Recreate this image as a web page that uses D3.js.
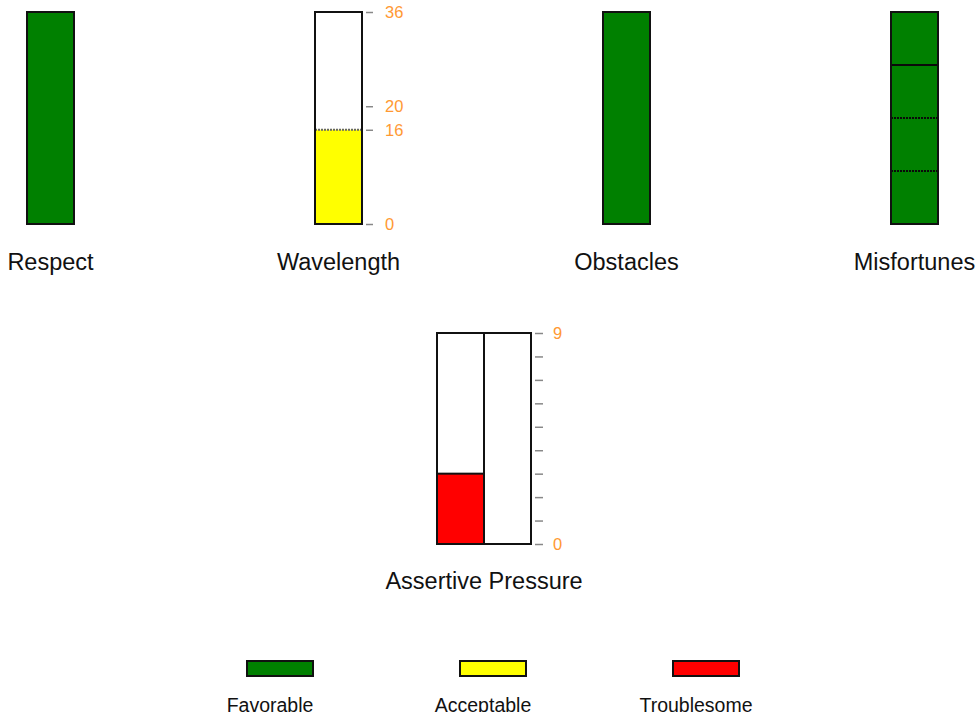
<!DOCTYPE html>
<html>
<head>
<meta charset="utf-8">
<script src="https://cdn.jsdelivr.net/npm/d3@7"></script>
<style>
	body { margin: 0; background: #fff; }
	svg { display: block; }
</style>
</head>
<body>
<div id="chart"></div>
<script>
// data
var topNames = ["Respect", "Wavelength", "Obstacles", "Misfortunes"];
var topStatus = ["Favorable", "Acceptable", "Favorable", "Favorable"];
var topValues = [1, 16, 1, 4];
var topMax = [1, 36, 1, 4];
var wavelengthTicks = [0, 16, 20, 36];
var misfortuneSegments = [1, 1, 1, 1];

var assertiveName = "Assertive Pressure";
var assertiveValues = [3, 0];
var assertiveMax = 9;
var assertiveTicks = [0, 1, 2, 3, 4, 5, 6, 7, 8, 9];
var assertiveTickLabels = [0, 9];

var statusNames = ["Favorable", "Acceptable", "Troublesome"];
var statusColors = ["#008000", "#ffff00", "#ff0000"];

var width = 978, height = 712;
var barW = 47;
var labelColor = "#ff9933";
var font = "Arial, 'Liberation Sans', sans-serif";

var color = d3.scaleOrdinal().domain(statusNames).range(statusColors);

var svg = d3.select("#chart").append("svg")
	.attr("width", width)
	.attr("height", height);

// top row of gauges
var xTop = d3.scalePoint().domain(topNames).range([50.5, 914.5]);

topNames.forEach(function(name, i) {
	var cx = xTop(name);
	var y = d3.scaleLinear().domain([0, topMax[i]]).range([224, 12]);
	var g = svg.append("g");

	g.append("rect")
		.attr("x", cx - barW/2).attr("y", y(topMax[i]))
		.attr("width", barW).attr("height", y(0) - y(topMax[i]))
		.style("fill", "white");

	if (name == "Misfortunes") {
		// stacked segments, dividers drawn after so they stay on top
		var acc = 0, cuts = [];
		misfortuneSegments.forEach(function(v, k) {
			g.append("rect")
				.attr("x", cx - barW/2).attr("y", y(acc + v))
				.attr("width", barW).attr("height", y(acc) - y(acc + v))
				.style("fill", color(topStatus[i]));
			acc += v;
			if (k < misfortuneSegments.length - 1) cuts.push(acc);
		});
		cuts.forEach(function(c, k) {
			g.append("line")
				.attr("x1", cx - barW/2).attr("x2", cx + barW/2)
				.attr("y1", y(c)).attr("y2", y(c))
				.style("stroke", "#0a0a0a")
				.style("stroke-width", 2)
				.style("stroke-dasharray", k == cuts.length - 1 ? null : "2,1");
		});
	} else {
		g.append("rect")
			.attr("x", cx - barW/2).attr("y", y(topValues[i]))
			.attr("width", barW).attr("height", y(0) - y(topValues[i]))
			.style("fill", color(topStatus[i]));
		if (topValues[i] < topMax[i]) {
			g.append("line")
				.attr("x1", cx - barW/2).attr("x2", cx + barW/2)
				.attr("y1", y(topValues[i])).attr("y2", y(topValues[i]))
				.style("stroke", "#666")
				.style("stroke-width", 2)
				.style("stroke-dasharray", "2,1");
		}
	}

	g.append("rect")
		.attr("x", cx - barW/2).attr("y", y(topMax[i]))
		.attr("width", barW).attr("height", y(0) - y(topMax[i]))
		.style("fill", "none")
		.style("stroke", "#111")
		.style("stroke-width", 2);

	if (name == "Wavelength") {
		var ax = g.append("g")
			.attr("transform", "translate(" + (cx + barW/2 + 4) + ",0)")
			.call(d3.axisRight(y).tickValues(wavelengthTicks).tickSize(7).tickPadding(12));
		ax.select(".domain").remove();
		ax.selectAll("line").style("stroke", "#888").style("stroke-width", 1.5);
		ax.selectAll("text").style("fill", labelColor).style("font-family", font).style("font-size", "16.5px");
	}

	g.append("text")
		.attr("x", cx).attr("y", 270)
		.attr("text-anchor", "middle")
		.style("font-family", font)
		.style("font-size", "23.5px")
		.style("fill", "#111")
		.text(name);
});

// assertive pressure gauge (two columns)
var ya = d3.scaleLinear().domain([0, assertiveMax]).range([544, 333]);
var xa = d3.scaleBand().domain(d3.range(assertiveValues.length)).range([437, 531]);
var ga = svg.append("g");

ga.selectAll(".col-bg")
	.data(assertiveValues)
	.enter().append("rect")
	.attr("x", (d, i) => xa(i)).attr("y", ya(assertiveMax))
	.attr("width", xa.bandwidth()).attr("height", ya(0) - ya(assertiveMax))
	.style("fill", "white");

ga.selectAll(".col-val")
	.data(assertiveValues)
	.enter().append("rect")
	.attr("x", (d, i) => xa(i)).attr("y", d => ya(d))
	.attr("width", xa.bandwidth()).attr("height", d => ya(0) - ya(d))
	.style("fill", color("Troublesome"))
	.style("stroke", "#111")
	.style("stroke-width", 2);

ga.selectAll(".col-border")
	.data(assertiveValues)
	.enter().append("rect")
	.attr("x", (d, i) => xa(i)).attr("y", ya(assertiveMax))
	.attr("width", xa.bandwidth()).attr("height", ya(0) - ya(assertiveMax))
	.style("fill", "none")
	.style("stroke", "#111")
	.style("stroke-width", 2);

var axA = ga.append("g")
	.attr("transform", "translate(535,0)")
	.call(d3.axisRight(ya).tickValues(assertiveTicks).tickSize(8).tickPadding(10)
		.tickFormat(d => assertiveTickLabels.includes(d) ? d : ""));
axA.select(".domain").remove();
axA.selectAll("line").style("stroke", "#888").style("stroke-width", 1.5);
axA.selectAll("text").style("fill", labelColor).style("font-family", font).style("font-size", "16.5px");

ga.append("text")
	.attr("x", 484).attr("y", 589)
	.attr("text-anchor", "middle")
	.style("font-family", font)
	.style("font-size", "23.5px")
	.style("fill", "#111")
	.text(assertiveName);

// legend
var xLeg = d3.scalePoint().domain(statusNames).range([280, 706]);
var leg = svg.selectAll(".legend")
	.data(statusNames)
	.enter().append("g")
	.attr("transform", d => "translate(" + xLeg(d) + ",0)");

leg.append("rect")
	.attr("x", -33).attr("y", 661)
	.attr("width", 66).attr("height", 15)
	.style("fill", d => color(d))
	.style("stroke", "#111")
	.style("stroke-width", 2);

leg.append("text")
	.attr("x", -10).attr("y", 712)
	.attr("text-anchor", "middle")
	.style("font-family", font)
	.style("font-size", "19.5px")
	.style("fill", "#111")
	.text(d => d);
</script>
</body>
</html>
